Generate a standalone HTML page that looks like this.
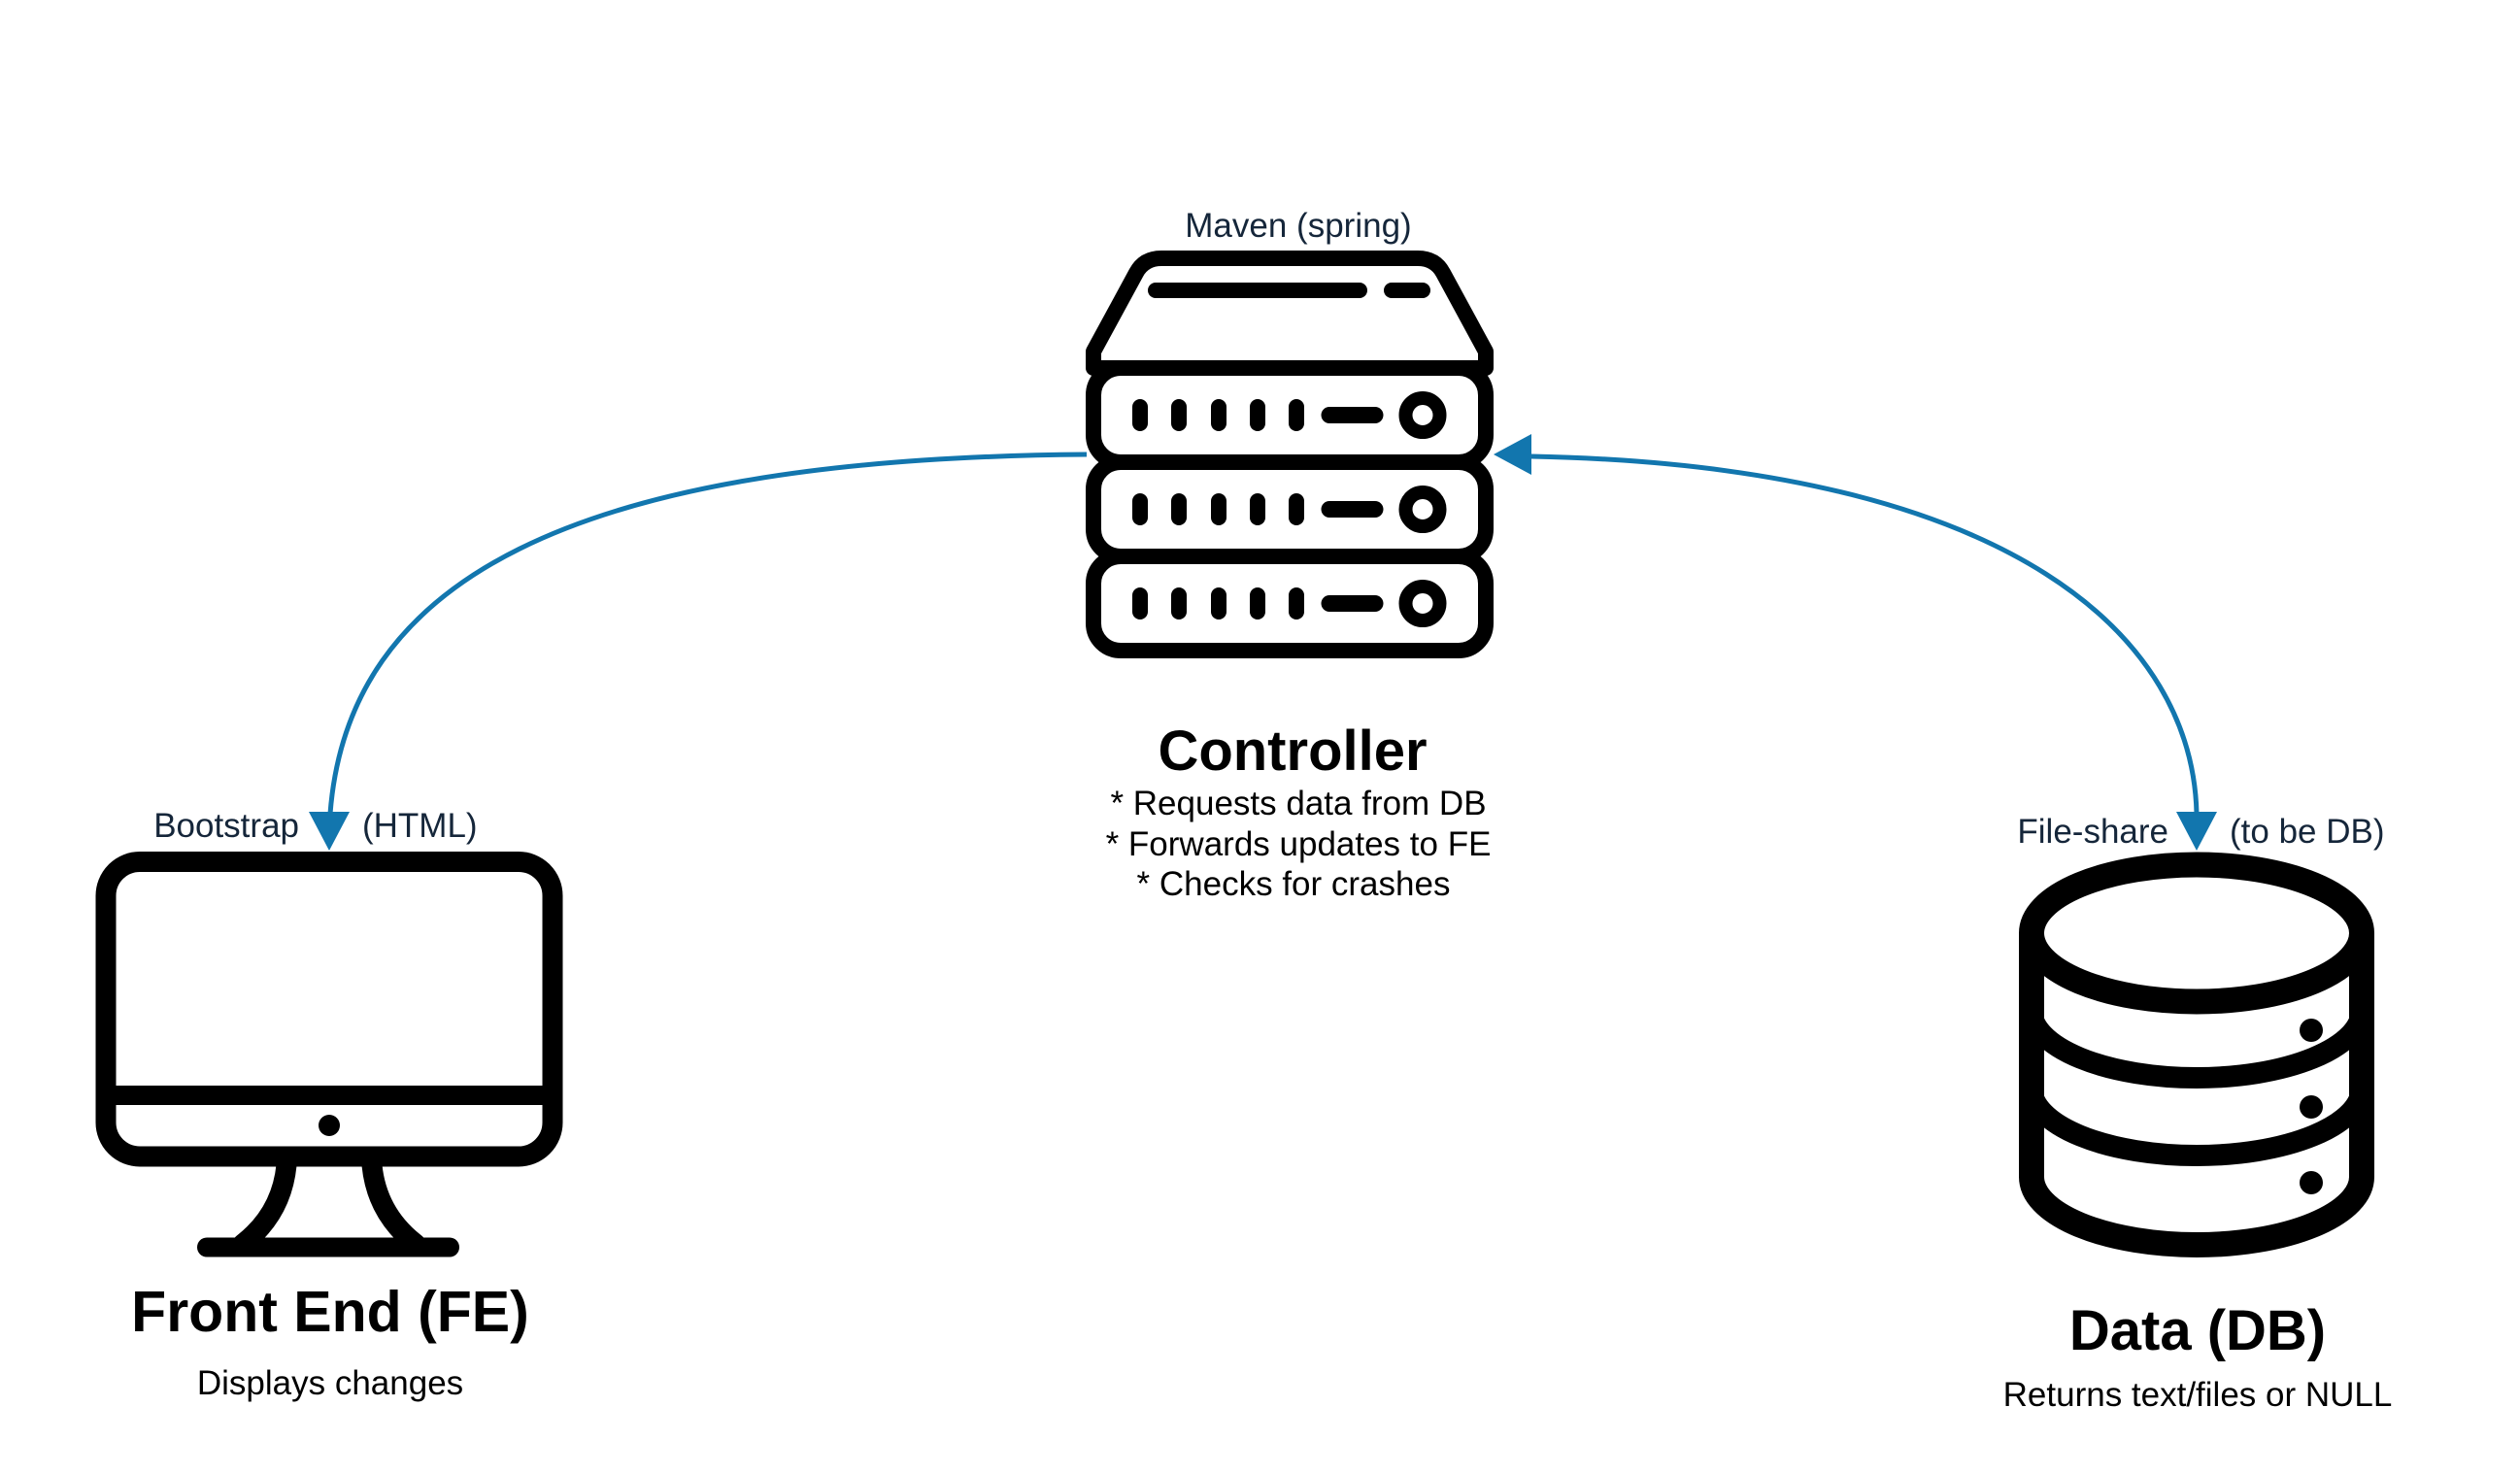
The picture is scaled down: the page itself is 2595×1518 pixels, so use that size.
<!DOCTYPE html>
<html><head><meta charset="utf-8"><style>html,body{margin:0;padding:0;background:#fff}svg{display:block}</style></head><body>
<svg width="2595" height="1518" viewBox="0 0 2595 1518" xmlns="http://www.w3.org/2000/svg" font-family="Liberation Sans, Arial, sans-serif">
<rect width="2595" height="1518" fill="#fff"/>
<!-- connectors -->
<g fill="none" stroke="#1276ae" stroke-width="5">
<path d="M1119,468 C582,472 358,600 340,838"/>
<path d="M1577,470 C2080,480 2258,660 2262,838"/>
</g>
<g fill="#1276ae">
<polygon points="339,876 318,836 360,836"/>
<polygon points="2262,876 2241,836 2283,836"/>
<polygon points="1538,468 1577,447 1577,489"/>
</g>
<!-- server -->
<g fill="none" stroke="#000" stroke-width="16" stroke-linejoin="round">
<path d="M1126,379 V362 L1170,281 Q1178,266 1196,266 H1460 Q1478,266 1486,281 L1530,362 V379 Z" fill="#fff"/>
<rect x="1126" y="379" width="404" height="97" rx="28" fill="#fff"/>
<rect x="1126" y="476" width="404" height="97" rx="28" fill="#fff"/>
<rect x="1126" y="573" width="404" height="97" rx="28" fill="#fff"/>
</g>
<g stroke="#000" stroke-linecap="round" fill="none">
<line x1="1190" y1="299" x2="1400" y2="299" stroke-width="16"/>
<line x1="1433" y1="299" x2="1465" y2="299" stroke-width="16"/>
<g id="slots">
<line x1="1174" y1="419" x2="1174" y2="436" stroke-width="16"/>
<line x1="1214" y1="419" x2="1214" y2="436" stroke-width="16"/>
<line x1="1255" y1="419" x2="1255" y2="436" stroke-width="16"/>
<line x1="1295" y1="419" x2="1295" y2="436" stroke-width="16"/>
<line x1="1335" y1="419" x2="1335" y2="436" stroke-width="16"/>
<line x1="1369" y1="427.5" x2="1416" y2="427.5" stroke-width="17"/>
<circle cx="1465" cy="427.5" r="17.5" stroke-width="14" stroke-linecap="butt"/>
</g>
<use href="#slots" y="97"/>
<use href="#slots" y="194"/>
</g>
<!-- monitor -->
<g fill="none" stroke="#000" stroke-width="21" stroke-linecap="round">
<rect x="109" y="887.5" width="460" height="303.5" rx="35"/>
<line x1="109" y1="1128" x2="569" y2="1128" stroke-linecap="butt" stroke-width="20"/>
<path d="M295,1200 Q290,1250 250,1281"/>
<path d="M383,1200 Q388,1250 428,1281"/>
<line x1="213" y1="1284.5" x2="463" y2="1284.5" stroke-width="20"/>
</g>
<circle cx="339" cy="1159" r="11" fill="#000"/>
<!-- database -->
<g fill="none" stroke="#000" stroke-width="26">
<ellipse cx="2262" cy="961" rx="170" ry="70.5"/>
<path d="M2092,961 V1212 A170,70 0 0 0 2432,1212 V961"/>
</g>
<g fill="none" stroke="#000" stroke-width="22">
<path d="M2092,1040 A170,70 0 0 0 2432,1040"/>
<path d="M2092,1120 A170,70 0 0 0 2432,1120"/>
</g>
<g fill="#000">
<circle cx="2380" cy="1061" r="12"/>
<circle cx="2380" cy="1140" r="12"/>
<circle cx="2380" cy="1218" r="12"/>
</g>
<!-- text -->
<g fill="#15263a" font-size="35">
<text x="1337" y="244" text-anchor="middle">Maven (spring)</text>
<text x="308" y="862" text-anchor="end">Bootstrap</text>
<text x="373" y="862">(HTML)</text>
<text x="2233" y="868" text-anchor="end">File-share</text>
<text x="2296" y="868">(to be DB)</text>
</g>
<g fill="#000">
<text x="1331" y="793" text-anchor="middle" font-size="58" font-weight="bold">Controller</text>
<text x="1337" y="839" text-anchor="middle" font-size="35">* Requests data from DB</text>
<text x="1337" y="881" text-anchor="middle" font-size="35">* Forwards updates to FE</text>
<text x="1332" y="922" text-anchor="middle" font-size="35">* Checks for crashes</text>
<text x="340" y="1371" text-anchor="middle" font-size="59" font-weight="bold">Front End (FE)</text>
<text x="340" y="1436" text-anchor="middle" font-size="35">Displays changes</text>
<text x="2263" y="1390" text-anchor="middle" font-size="58" font-weight="bold">Data (DB)</text>
<text x="2263" y="1448" text-anchor="middle" font-size="35">Returns text/files or NULL</text>
</g>
</svg>
</body></html>
